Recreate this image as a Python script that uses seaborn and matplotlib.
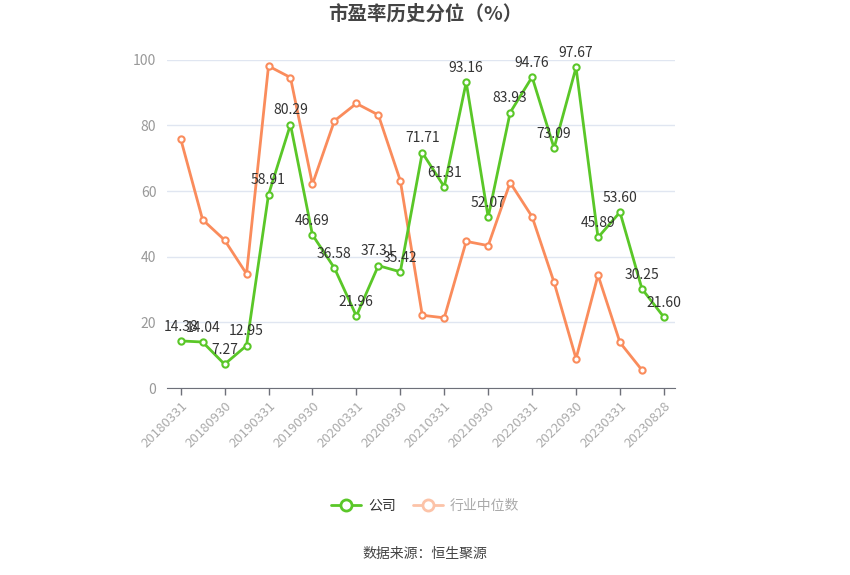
import matplotlib
matplotlib.use('Agg')
import matplotlib.pyplot as plt
from matplotlib.lines import Line2D
import numpy as np
import pandas as pd
import seaborn as sns

dates = ['20180331', '20180630', '20180930', '20181231', '20190331', '20190630',
         '20190930', '20191231', '20200331', '20200630', '20200930', '20201231',
         '20210331', '20210630', '20210930', '20211231', '20220331', '20220630',
         '20220930', '20221231', '20230331', '20230630', '20230828']
company = [14.38, 14.04, 7.27, 12.95, 58.91, 80.29, 46.69, 36.58, 21.96, 37.31,
           35.42, 71.71, 61.31, 93.16, 52.07, 83.93, 94.76, 73.09, 97.67, 45.89,
           53.60, 30.25, 21.60]
industry = [76.0, 51.3, 45.1, 34.8, 98.1, 94.6, 62.1, 81.4, 86.7, 83.2,
            63.2, 22.2, 21.4, 44.7, 43.4, 62.6, 52.2, 32.2, 9.0, 34.4,
            13.9, 5.5, np.nan]

GREEN = '#5ac728'
ORANGE = '#fa8c5c'

sns.set_style('white')
plt.rcParams['font.family'] = ['Noto Sans CJK SC', 'DejaVu Sans']

df = pd.DataFrame({'idx': range(len(dates)), 'company': company, 'industry': industry})

fig = plt.figure(figsize=(8.5, 5.75), dpi=100)
ax = fig.add_axes([0.197, 0.325, 0.597, 0.571])

# industry line first so the company line sits on top
for col, color in [('industry', ORANGE), ('company', GREEN)]:
    sns.lineplot(data=df, x='idx', y=col, ax=ax, color=color, linewidth=2,
                 marker='o', markersize=4.5, markerfacecolor='white',
                 markeredgecolor=color, markeredgewidth=1.5, zorder=3)

for i, v in enumerate(company):
    ax.text(i, v + 2.2, f'{v:.2f}', ha='center', va='bottom', fontsize=10,
            color='#333333', zorder=4)

ax.set_ylim(0, 100)
ax.set_xlim(-0.6, 22.5)
ax.set_yticks([0, 20, 40, 60, 80, 100])
ax.yaxis.grid(True, color='#e0e6f1', linewidth=1)
ax.set_axisbelow(True)
tick_pos = list(range(0, len(dates), 2))
ax.set_xticks(tick_pos)
ax.set_xticklabels([dates[i] for i in tick_pos], rotation=45, ha='right',
                   rotation_mode='anchor', fontsize=9.5, color='#aaaaaa')
ax.tick_params(axis='y', labelsize=10, labelcolor='#999999', length=0, pad=8)
ax.tick_params(axis='x', length=5, color='#6e7079', width=1, pad=3, direction='out', bottom=True)
for s in ['top', 'right', 'left']:
    ax.spines[s].set_visible(False)
ax.spines['bottom'].set_color('#6e7079')
ax.set_xlabel('')
ax.set_ylabel('')

fig.text(0.5, 0.976, '市盈率历史分位（%）', ha='center', va='center',
         fontsize=14, fontweight='bold', color='#444444')

handles = [
    Line2D([], [], color=GREEN, linewidth=2, marker='o', markersize=8,
           markerfacecolor='white', markeredgecolor=GREEN, markeredgewidth=2),
    Line2D([], [], color='#fcc3a8', linewidth=2, marker='o', markersize=8,
           markerfacecolor='white', markeredgecolor='#fcc3a8', markeredgewidth=2),
]
leg = fig.legend(handles, ['公司', '行业中位数'], loc='center', bbox_to_anchor=(0.5, 0.121),
                 ncol=2, frameon=False, fontsize=10, handlelength=2.2,
                 columnspacing=1.2, handletextpad=0.5)
leg.get_texts()[0].set_color('#333333')
leg.get_texts()[1].set_color('#aaaaaa')

fig.text(0.5, 0.037, '数据来源：恒生聚源', ha='center', va='center',
         fontsize=10, color='#444444')

fig.savefig('out.png', dpi=100)
